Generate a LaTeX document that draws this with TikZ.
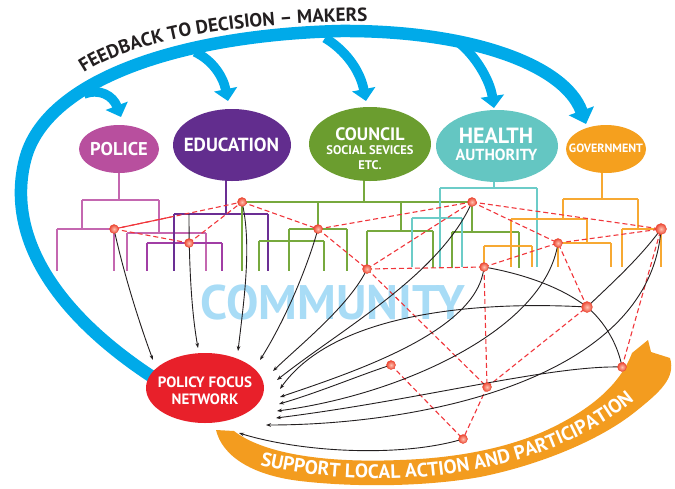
\documentclass[tikz,border=0pt]{standalone}
\usepackage{fontspec}
\setmainfont{PT Sans}
\usetikzlibrary{shapes.geometric,arrows.meta,decorations.text,calc}
\definecolor{cblue}{HTML}{00AAE9}
\definecolor{ccomm}{HTML}{A8DCF6}
\definecolor{corange}{HTML}{F39C1F}
\definecolor{cpfn}{HTML}{E8202A}
\definecolor{cpol}{HTML}{B84F9E}
\definecolor{cedu}{HTML}{622D8E}
\definecolor{ccou}{HTML}{6B9D2F}
\definecolor{chea}{HTML}{64C6C2}
\definecolor{cgov}{HTML}{F5A01E}
\definecolor{lpol}{HTML}{C467B0}
\definecolor{lvio}{HTML}{A13DA5}
\definecolor{ledu}{HTML}{6B2E94}
\definecolor{lcou}{HTML}{77A93E}
\definecolor{lhea}{HTML}{6CCCC8}
\definecolor{lgov}{HTML}{F7A933}
\definecolor{cdash}{HTML}{F0353A}
\definecolor{cballin}{HTML}{FFC2B0}
\definecolor{cballout}{HTML}{EC4A36}
\definecolor{ctext}{HTML}{231F20}
\newcommand\fbfont{\fontsize{19}{19}\selectfont\bfseries\color{ctext}}
\newcommand\orfont{\fontsize{19.5}{19.5}\selectfont\bfseries\color{white}}
\begin{document}
\begin{tikzpicture}[x=1pt,y=-1pt,
  org/.style={ellipse,inner sep=0pt},
  lab/.style={inner sep=0pt,text=white,font=\bfseries},
  tree/.style={line width=1.3pt},
  reddash/.style={draw=cdash,line width=1.1pt,dash pattern=on 5pt off 3pt},
  redsolid/.style={draw=cdash,line width=1.1pt},
  flow/.style={draw=ctext,line width=0.9pt,-{Stealth[length=5pt,width=3.6pt]}},
  flowplain/.style={draw=ctext,line width=0.9pt},
  rednode/.style={circle,inner sep=0pt,minimum size=9pt,inner color=cballin,outer color=cballout,draw=cballout,line width=0.4pt},
  bignode/.style={rednode,minimum size=11pt},
  blueband/.style={draw=cblue,line width=12.5pt,-{Triangle[length=14pt,width=26pt]}},
  bluebranch/.style={draw=cblue,line width=9.5pt,-{Triangle[length=12pt,width=23pt]}}
]
\useasboundingbox (0,0) rectangle (675,488);

% community text
\node[text=ccomm,font=\fontsize{48.5}{48.5}\selectfont\bfseries,inner sep=0pt] (comm) at (333,303) {COMMUNITY};

% coordinates of network nodes
\coordinate (N1) at (114,229);
\coordinate (N2) at (189,243);
\coordinate (N3) at (242,202);
\coordinate (N4) at (318,229);
\coordinate (N5) at (367,269);
\coordinate (N6) at (472,202);
\coordinate (N7) at (484,267);
\coordinate (N8) at (558,243);
\coordinate (N9) at (661,229);
\coordinate (N10) at (587,307);
\coordinate (N11) at (391,365);
\coordinate (N12) at (487,387);
\coordinate (N13) at (622,367);
\coordinate (N14) at (463,439);
\coordinate (E2) at (189,214);

% trees
\draw[tree,lpol] (119,173) -- (119,200) (82,200) -- (159,200) (82,200) -- (82,229) (159,200) -- (159,233)
  (57,229) -- (114,229) (57,229) -- (57,271) (114,229) -- (114,271)
  (127,233) -- (206,233) (127,233) -- (127,271) (206,233) -- (206,271);
\draw[tree,lvio] (147,243) -- (222,243) (147,243) -- (147,271) (222,243) -- (222,271);
\draw[tree,ledu] (226,181) -- (226,214) (174,214) -- (268,214) (174,214) -- (174,271) (268,214) -- (268,271);
\draw[tree,lcou] (364,181) -- (364,202) (242,202) -- (472,202) (242,202) -- (242,271)
  (318,202) -- (318,229) (289,229) -- (347,229) (289,229) -- (289,271) (347,229) -- (347,271)
  (259,241) -- (324,241) (259,241) -- (259,271) (324,241) -- (324,271)
  (401,202) -- (401,231) (367,231) -- (433,231) (367,231) -- (367,269) (433,231) -- (433,268)
  (472,202) -- (472,232) (452,232) -- (519,232) (452,232) -- (452,268) (519,232) -- (519,268);
\draw[tree,lhea] (494,181) -- (494,188) (440,188) -- (537,188) (440,188) -- (440,267) (537,188) -- (537,267)
  (412,218) -- (462,218) (412,218) -- (412,267) (462,218) -- (462,267);
\draw[tree,lgov] (602,173) -- (602,199) (563,199) -- (638,199) (563,199) -- (563,219)
  (511,219) -- (587,219) (511,219) -- (511,267) (587,219) -- (587,243)
  (558,243) -- (611,243) (558,243) -- (558,267) (611,243) -- (611,267)
  (638,199) -- (638,229) (622,229) -- (661,229) (622,229) -- (622,267) (661,229) -- (661,267)
  (484,246) -- (532,246) (484,246) -- (484,267) (532,246) -- (532,267);

% blue feedback band
\draw[blueband] (165,385) .. controls (60,320) and (5,240) .. (25,160)
  .. controls (45,80) and (180,35) .. (340,31)
  .. controls (470,30) and (565,65) .. (586,124);
\draw[bluebranch] (84,94) .. controls (100,88) and (113,96) .. (121,117);
\draw[bluebranch] (195,52) .. controls (212,60) and (223,76) .. (228,101);
\draw[bluebranch] (325,38) .. controls (345,50) and (360,70) .. (366,101);
\draw[bluebranch] (458,42) .. controls (475,55) and (490,80) .. (494,108);
\path[decorate,decoration={text along path,text align=left,
  text={|\fbfont|FEEDBACK TO DECISION – MAKERS}}]
  (84,73) .. controls (134,40) and (234,21) .. (390,21);

% orange band
\fill[corange] (216,430) .. controls (222,455) and (250,475) .. (300,481)
  .. controls (360,488) and (430,486) .. (480,477)
  .. controls (540,465) and (600,440) .. (635,412)
  .. controls (660,392) and (676,378) .. (670,358)
  -- (651,352) -- (648,340) -- (632,353)
  .. controls (620,385) and (590,410) .. (547,430)
  .. controls (510,447) and (460,458) .. (400,460)
  .. controls (330,463) and (265,455) .. (234,431) -- cycle;
\path[decorate,decoration={text along path,text align=left,
  text={|\orfont|SUPPORT LOCAL ACTION AND PARTICIPATION}}]
  (260,465) .. controls (380,494) and (575,482) .. (668,366);

% red dashed network
\draw[redsolid] (N1) -- ($(N1)!0.45!(N3)$);
\draw[reddash] (N1) -- (N3) (N1) -- (N2) (N2) -- (N3) (N3) -- (N4) (N4) -- (N6) (N4) -- (N5)
  (N5) -- (N6) (N5) -- (N7) (N5) -- (N12) (N6) -- (N8) (N6) -- (N9) (N7) -- (N8) (N8) -- (N9)
  (N7) -- (N12) (N12) -- (N10) (N10) -- (N8) (N13) -- (N9) (N11) -- (N14) (N12) -- (N14);

% black flows
\coordinate (a1) at (153,360);
\coordinate (a2) at (198,348);
\coordinate (a3) at (238,351);
\coordinate (a4) at (260,360);
\coordinate (a5) at (273,371);
\coordinate (a6) at (277,380);
\coordinate (a7) at (280,389);
\coordinate (a8) at (280,397);
\coordinate (a9) at (279,404);
\coordinate (a10) at (277,411);
\coordinate (a11) at (276,418);
\coordinate (a12) at (266,425);
\coordinate (a13) at (239,433);
\draw[flow] (N1) .. controls (124,275) and (140,325) .. (a1);
\draw[flow] (E2) .. controls (189,280) and (193,320) .. (a2);
\draw[flow] (N3) .. controls (252,245) and (244,300) .. (a3);
\draw[flow] (N4) .. controls (305,275) and (282,325) .. (a4);
\draw[flow] (N5) .. controls (350,305) and (300,345) .. (a5);
\draw[flow] (N6) .. controls (440,275) and (340,330) .. (a6);
\draw[flow] (N10) .. controls (460,300) and (330,318) .. (a7);
\draw[flow] (N7) .. controls (478,330) and (360,370) .. (a8);
\draw[flow] (N11) .. controls (360,375) and (320,392) .. (a9);
\draw[flow] (N8) .. controls (545,330) and (400,395) .. (a10);
\draw[flow] (N13) .. controls (550,365) and (420,400) .. (a11);
\draw[flow] (N9) .. controls (650,380) and (420,425) .. (a12);
\draw[flow] (N14) .. controls (400,458) and (300,452) .. (a13);
\draw[flowplain] (N7) .. controls (530,275) and (565,290) .. (N10) .. controls (605,322) and (618,345) .. (N13);
\draw[flowplain] (N9) .. controls (640,258) and (610,285) .. (N10);

% organisation ellipses
\node[org,fill=cpol,minimum width=80pt,minimum height=48pt] (police) at (119,149) {};
\node[org,fill=cedu,minimum width=118pt,minimum height=72pt] (education) at (232,145) {};
\node[org,fill=ccou,minimum width=122pt,minimum height=74pt] (council) at (370,144) {};
\node[org,fill=chea,minimum width=122pt,minimum height=72pt] (health) at (497,146) {};
\node[org,fill=cgov,minimum width=80pt,minimum height=48pt] (gov) at (606,149) {};
\node[org,fill=cpfn,minimum width=118pt,minimum height=70pt] (pfn) at (205,388) {};

\node[lab,font=\fontsize{18.5}{18.5}\selectfont\bfseries] (policeT) at (119,149.5) {POLICE};
\node[lab,font=\fontsize{19}{19}\selectfont\bfseries] (educationT) at (231.5,145) {EDUCATION};
\node[lab,font=\fontsize{18}{18}\selectfont\bfseries] (councilT) at (370,134) {COUNCIL};
\node[lab,font=\fontsize{12.5}{12.5}\selectfont\bfseries] (councilT2) at (370,150.5) {SOCIAL SEVICES};
\node[lab,font=\fontsize{12.5}{12.5}\selectfont\bfseries] (councilT3) at (370,165.5) {ETC.};
\node[lab,font=\fontsize{22}{22}\selectfont\bfseries] (healthT) at (496,136) {HEALTH};
\node[lab,font=\fontsize{16}{16}\selectfont\bfseries] (healthT2) at (496.5,155) {AUTHORITY};
\node[lab,font=\fontsize{12}{12}\selectfont\bfseries] (govT) at (606,148.5) {GOVERNMENT};
\node[lab,font=\fontsize{15}{15}\selectfont\bfseries] (pfnT) at (205,382.5) {POLICY FOCUS};
\node[lab,font=\fontsize{15}{15}\selectfont\bfseries] (pfnT2) at (205,399) {NETWORK};

% red nodes
\foreach \n in {N1,N2,N3,N4,N5,N6,N7,N8,N11,N12,N13,N14}{\node[rednode] (s\n) at (\n) {};}
\node[bignode] (sN9) at (N9) {};
\node[bignode] (sN10) at (N10) {};
\end{tikzpicture}
\end{document}
